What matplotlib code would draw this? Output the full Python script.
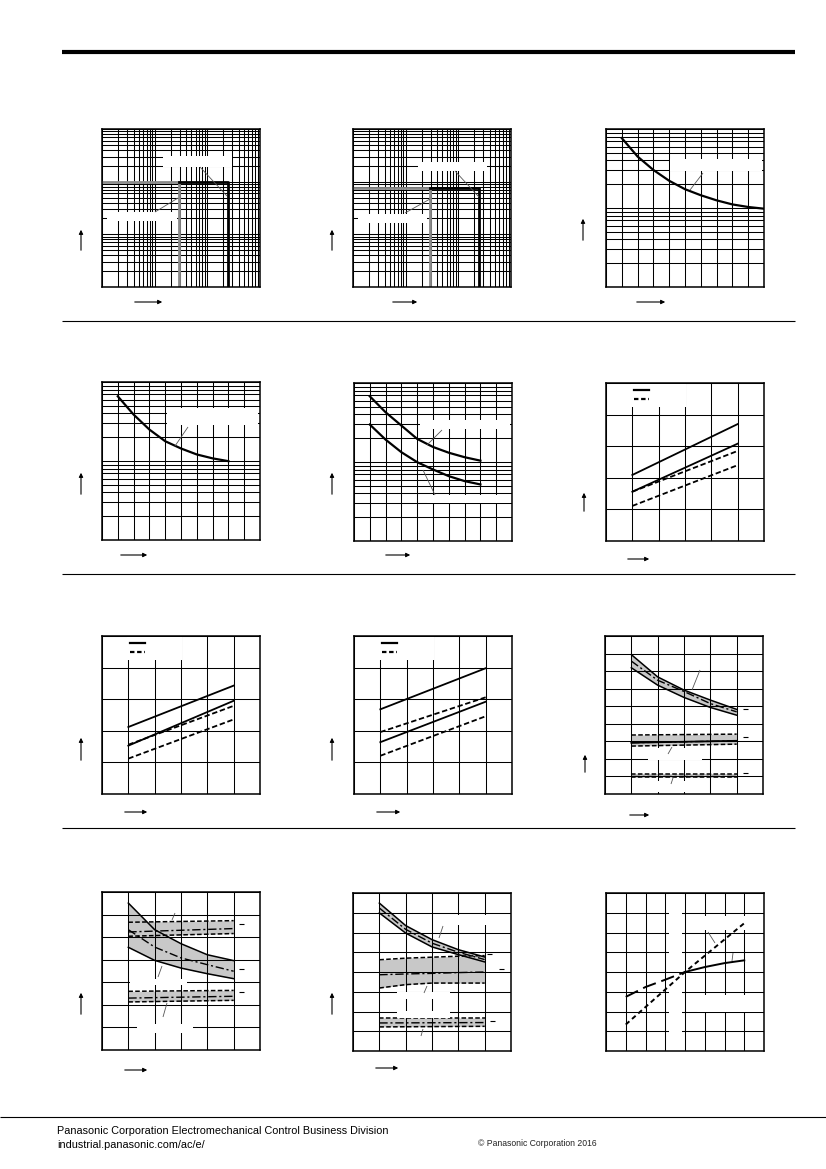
import matplotlib
matplotlib.use('Agg')
import matplotlib.pyplot as plt
from matplotlib.patches import Rectangle, FancyArrowPatch
from matplotlib.lines import Line2D
from matplotlib.ticker import LogLocator
import numpy as np

# ---------------- data ----------------
# row 1: log/log operating limit curves (x 1..1000, y 0.1..100)
lim1_gray_x = [1, 29, 29]
lim1_gray_y = [10, 10, 0.1]
lim1_black_x = [29, 248, 248]
lim1_black_y = [10, 10, 0.1]
lim2_gray_x = [1, 29.6, 29.6]
lim2_gray_y = [7.7, 7.7, 0.1]
lim2_black_x = [29.6, 251, 251]
lim2_black_y = [7.7, 7.7, 0.1]

# row 1/2: life curves, linear x, log y (1..100)
life3_x = [10, 20, 30, 40, 50, 60, 70, 80, 90, 100]
life3_y = [76.7, 44.8, 30.3, 22.1, 17.3, 14.5, 12.5, 11.1, 10.3, 9.8]
life4_x = [10, 20, 30, 40, 50, 60, 70, 80]
life4_y = [65.9, 38.7, 25.0, 17.8, 14.4, 12.1, 10.8, 9.95]
life5_x = [10, 20, 30, 40, 50, 60, 70, 80]
life5_hi = [67.9, 42.6, 28.9, 19.6, 15.5, 13.1, 11.5, 10.4]
life5_lo = [29.8, 19.2, 13.3, 9.95, 8.04, 6.62, 5.73, 5.2]

# row 2/3: temperature characteristics (x -60..120, y 0..5)
temp_x = [-30, 90]
c6_solid_hi = [2.09, 3.70]
c6_solid_lo = [1.56, 3.08]
c6_dash_hi = [1.56, 2.85]
c6_dash_lo = [1.11, 2.40]
c7_solid_hi = [2.12, 3.43]
c7_solid_lo = [1.53, 2.95]
c7_dash_hi = [1.56, 2.79]
c7_dash_lo = [1.12, 2.36]
c8_solid_hi = [2.68, 3.98]
c8_solid_lo = [1.64, 2.92]
c8_dash_hi = [1.96, 3.06]
c8_dash_lo = [1.21, 2.46]

# row 3/4: distribution bands (x 0..6)
band_x = [1, 2, 3, 4, 5]
flat_x = [1, 5]
c9_a_hi = [7.94, 6.67, 5.92, 5.35, 4.82]
c9_a_lo = [7.19, 6.20, 5.50, 4.93, 4.49]
c9_a_mid = [7.57, 6.48, 5.84, 5.15, 4.68]
c9_b_hi = [3.36, 3.41]
c9_b_lo = [2.73, 2.84]
c9_b_mid = [2.92, 3.03]
c9_c_hi = [1.14, 1.14]
c9_c_lo = [0.95, 0.95]
c9_c_mid = [1.04, 1.04]

c10_a_hi = [6.51, 5.33, 4.71, 4.22, 3.96]
c10_a_lo = [4.55, 3.97, 3.63, 3.38, 3.16]
c10_a_mid = [5.33, 4.56, 4.08, 3.78, 3.49]
c10_b_hi = [5.66, 5.73]
c10_b_lo = [5.04, 5.16]
c10_b_mid = [5.23, 5.38]
c10_c_hi = [2.60, 2.64]
c10_c_lo = [2.13, 2.20]
c10_c_mid = [2.30, 2.38]

c11_a_hi = [7.49, 6.35, 5.64, 5.13, 4.76]
c11_a_lo = [6.99, 5.97, 5.27, 4.88, 4.51]
c11_a_mid = [7.24, 6.16, 5.46, 5.00, 4.63]
c11_b_hi = [4.62, 4.70, 4.75, 4.80, 4.83]
c11_b_lo = [3.19, 3.36, 3.44, 3.44, 3.44]
c11_b_mid = [3.86, 3.90, 3.93, 3.97, 4.00]
c11_c_hi = [1.67, 1.67]
c11_c_lo = [1.22, 1.25]
c11_c_mid = [1.42, 1.44]

# row 4 col 3: deviation chart (x -4..4, y -4..4)
dev_x = [-3, -2, -1, 0, 1, 2, 3]
dev_solid = [-1.26, -0.76, -0.39, 0, 0.25, 0.45, 0.59]
dev_dash_x = [-3, 0, 3]
dev_dash = [-2.66, 0, 2.47]

# ---------------- page helpers ----------------
W, H = 826, 1169
fig = plt.figure(figsize=(W / 100, H / 100), dpi=100)
fig.patch.set_facecolor('white')

def fx(x):
    return x / W

def fy(y):
    return 1 - y / H

def new_axes(left, top, w=158, h=158):
    ax = fig.add_axes([fx(left), fy(top + h), w / W, h / H])
    for s in ax.spines.values():
        s.set_linewidth(1.1)
    ax.tick_params(which='both', length=0, labelbottom=False, labelleft=False)
    return ax

def grid_on(ax):
    ax.grid(True, which='both', color='black', lw=0.75)

def log_axis(axis):
    axis.set_major_locator(LogLocator(base=10))
    axis.set_minor_locator(LogLocator(base=10, subs=range(2, 10)))

def page_line(x0, y0, x1, y1, lw=0.6, color='#555555'):
    fig.add_artist(Line2D([fx(x0), fx(x1)], [fy(y0), fy(y1)],
                          transform=fig.transFigure, lw=lw, color=color,
                          solid_capstyle='butt', zorder=10))

def blank(x0, y0, x1, y1, ax=None):
    # white label area; inside an axes it sits over the grid but under the curves
    rect = Rectangle((fx(x0), fy(y1)), (x1 - x0) / W, (y1 - y0) / H,
                     transform=fig.transFigure, facecolor='white', edgecolor='none')
    if ax is None:
        rect.set_zorder(5)
        fig.add_artist(rect)
    else:
        rect.set_zorder(1.8)
        ax.add_patch(rect)

def arrow(x0, y0, x1, y1):
    fig.add_artist(FancyArrowPatch((fx(x0), fy(y0)), (fx(x1), fy(y1)),
                                   transform=fig.transFigure, arrowstyle='-|>',
                                   mutation_scale=6, lw=0.8, color='black', zorder=10))

def dash_mark(x, y):
    page_line(x, y, x + 5, y, lw=0.8, color='black')

def band(ax, x, hi, lo, mid, solid_edge=True):
    ax.fill_between(x, lo, hi, color='#c8c8c8', lw=0)
    ls = '-' if solid_edge else (0, (3, 1.5))
    ax.plot(x, hi, color='black', lw=1.1, ls=ls)
    ax.plot(x, lo, color='black', lw=1.1, ls=ls)
    ax.plot(x, mid, color='black', lw=1.0, ls=(0, (6, 2, 1.5, 2)))

def blank_legend(ax):
    h1 = Line2D([], [], color='black', lw=1.6)
    h2 = Line2D([], [], color='black', lw=1.6, ls=(0, (2, 1.2)))
    leg = ax.legend([h1, h2], ['            ', '            '], loc='upper left',
                    bbox_to_anchor=(0.16, 0.995), fontsize=6, frameon=True,
                    fancybox=False, framealpha=1, edgecolor='white',
                    borderpad=0.3, borderaxespad=0, handlelength=1.8,
                    labelspacing=0.0, handletextpad=0.4)
    leg.get_frame().set_linewidth(0)

# ---------------- page rules and footer ----------------
page_line(62, 52, 795, 52, lw=3.0, color='black')
for yy in (321, 574, 828):
    page_line(62, yy, 795, yy, lw=0.8, color='black')
page_line(0, 1117, 826, 1117, lw=0.8, color='black')

foot = ['Liberation Sans Narrow', 'Liberation Sans', 'DejaVu Sans']
fig.text(fx(57), fy(1131), 'Panasonic Corporation Electromechanical Control Business Division',
         fontsize=7.8, family=foot, va='center', ha='left', color='black')
fig.text(fx(57), fy(1145), 'industrial.panasonic.com/ac/e/',
         fontsize=7.8, family=foot, va='center', ha='left', color='black')
fig.text(fx(478), fy(1143), '\u00a9 Panasonic Corporation 2016',
         fontsize=6.2, family=foot, va='center', ha='left', color='#222222')

# ---------------- row 1 ----------------
for left, gx, gy, bx, by in [(102, lim1_gray_x, lim1_gray_y, lim1_black_x, lim1_black_y),
                             (353, lim2_gray_x, lim2_gray_y, lim2_black_x, lim2_black_y)]:
    ax = new_axes(left, 129)
    ax.set_xscale('log')
    ax.set_yscale('log')
    ax.set_xlim(1, 1000)
    ax.set_ylim(0.1, 100)
    log_axis(ax.xaxis)
    log_axis(ax.yaxis)
    ax.tick_params(which='both', length=0, labelbottom=False, labelleft=False)
    grid_on(ax)
    ax.plot(gx, gy, color='#8a8a8a', lw=2.0)
    ax.plot(bx, by, color='black', lw=2.0)

blank(163, 156, 232, 167)
blank(107, 212, 177, 221)
page_line(200, 167, 227, 196)
page_line(155, 212, 178, 198)
blank(418, 162, 487, 171)
blank(358, 214, 427, 223)
page_line(455, 171, 479, 197)
page_line(405, 213, 430, 199)

def life_axes(left, top):
    ax = new_axes(left, top)
    ax.set_yscale('log')
    ax.set_xlim(0, 100)
    ax.set_ylim(1, 100)
    ax.set_xticks(np.arange(0, 101, 10))
    log_axis(ax.yaxis)
    ax.tick_params(which='both', length=0, labelbottom=False, labelleft=False)
    grid_on(ax)
    return ax

ax3 = life_axes(606, 129)
ax3.plot(life3_x, life3_y, color='black', lw=1.6)
blank(670, 159, 762, 171)
page_line(703, 173, 690, 190)

# ---------------- row 2 ----------------
ax4 = life_axes(102, 382)
ax4.plot(life4_x, life4_y, color='black', lw=1.6)
blank(167, 408, 258, 425)
page_line(188, 427, 175, 446)

ax5 = life_axes(354, 383)
ax5.plot(life5_x, life5_hi, color='black', lw=1.6)
ax5.plot(life5_x, life5_lo, color='black', lw=1.6)
blank(420, 420, 510, 429)
blank(427, 495, 510, 503)
page_line(442, 430, 427, 445)
page_line(423, 470, 435, 495)

def temp_axes(left, top):
    ax = new_axes(left, top)
    ax.set_xlim(-60, 120)
    ax.set_ylim(0, 5)
    ax.set_xticks(np.arange(-60, 121, 30))
    ax.set_yticks(np.arange(0, 6, 1))
    grid_on(ax)
    return ax

for left, top, sh, sl, dh, dl in [(606, 383, c6_solid_hi, c6_solid_lo, c6_dash_hi, c6_dash_lo),
                                  (102, 636, c7_solid_hi, c7_solid_lo, c7_dash_hi, c7_dash_lo),
                                  (354, 636, c8_solid_hi, c8_solid_lo, c8_dash_hi, c8_dash_lo)]:
    ax = temp_axes(left, top)
    ax.plot(temp_x, sh, color='black', lw=1.3)
    ax.plot(temp_x, sl, color='black', lw=1.3)
    ax.plot(temp_x, dh, color='black', lw=1.3, ls=(0, (3, 1.5)))
    ax.plot(temp_x, dl, color='black', lw=1.3, ls=(0, (3, 1.5)))
    blank_legend(ax)

# ---------------- row 3 col 3 ----------------
ax9 = new_axes(605, 636)
ax9.set_xlim(0, 6)
ax9.set_ylim(0, 9)
ax9.set_xticks(range(7))
ax9.set_yticks(range(10))
grid_on(ax9)
band(ax9, band_x, c9_a_hi, c9_a_lo, c9_a_mid, solid_edge=True)
band(ax9, flat_x, c9_b_hi, c9_b_lo, c9_b_mid, solid_edge=False)
ax9.plot(flat_x, c9_b_mid, color='black', lw=1.3)
band(ax9, flat_x, c9_c_hi, c9_c_lo, c9_c_mid, solid_edge=False)
blank(648, 748, 702, 760)
blank(645, 781, 700, 792)
page_line(700, 670, 692, 690)
page_line(672, 747, 668, 754)
page_line(673, 778, 671, 784)
dash_mark(743, 709)
dash_mark(743, 737)
dash_mark(743, 773)

# ---------------- row 4 ----------------
ax10 = new_axes(102, 892)
ax10.set_xlim(0, 6)
ax10.set_ylim(0, 7)
ax10.set_xticks(range(7))
ax10.set_yticks(range(8))
grid_on(ax10)
band(ax10, band_x, c10_a_hi, c10_a_lo, c10_a_mid, solid_edge=True)
band(ax10, flat_x, c10_b_hi, c10_b_lo, c10_b_mid, solid_edge=False)
band(ax10, flat_x, c10_c_hi, c10_c_lo, c10_c_mid, solid_edge=False)
blank(130, 979, 187, 985)
blank(137, 1024, 193, 1033)
page_line(175, 913, 172, 920)
page_line(162, 966, 158, 977)
page_line(167, 1003, 163, 1017)
dash_mark(239, 924)
dash_mark(239, 969)
dash_mark(239, 992)

ax11 = new_axes(353, 893)
ax11.set_xlim(0, 6)
ax11.set_ylim(0, 8)
ax11.set_xticks(range(7))
ax11.set_yticks(range(9))
grid_on(ax11)
band(ax11, band_x, c11_a_hi, c11_a_lo, c11_a_mid, solid_edge=True)
band(ax11, band_x, c11_b_hi, c11_b_lo, c11_b_mid, solid_edge=False)
band(ax11, flat_x, c11_c_hi, c11_c_lo, c11_c_mid, solid_edge=False)
blank(447, 915, 487, 925)
blank(397, 992, 450, 999)
blank(397, 1011, 450, 1018)
page_line(443, 926, 439, 938)
page_line(427, 986, 424, 993)
page_line(423, 1029, 421, 1036)
dash_mark(487, 954)
dash_mark(499, 969)
dash_mark(490, 1021)

ax12 = new_axes(606, 893)
ax12.set_xlim(-4, 4)
ax12.set_ylim(-4, 4)
ax12.set_xticks(range(-4, 5))
ax12.set_yticks(range(-4, 5))
grid_on(ax12)
ax12.plot(dev_x[:4], dev_solid[:4], color='black', lw=1.4, ls=(0, (7, 3)))
ax12.plot(dev_x[3:], dev_solid[3:], color='black', lw=1.4)
ax12.plot(dev_dash_x, dev_dash, color='black', lw=1.4, ls=(0, (2.5, 1.8)))
blank(669, 894, 682, 970, ax=ax12)
blank(669, 974, 682, 1049, ax=ax12)
blank(697, 916, 763, 930, ax=ax12)
blank(697, 995, 763, 1012, ax=ax12)
page_line(708, 932, 715, 943)
page_line(733, 953, 732, 961)

# ---------------- axis direction arrows ----------------
y_arrows = [(81, 253, 227), (332, 253, 227), (583, 243, 216),
            (81, 497, 470), (332, 497, 470), (584, 514, 490),
            (81, 763, 735), (332, 763, 735), (585, 775, 752),
            (81, 1017, 990), (332, 1017, 990)]
x_arrows = [(132, 165, 302), (390, 420, 302), (634, 668, 302),
            (118, 150, 555), (383, 413, 555), (625, 652, 559),
            (122, 150, 812), (374, 403, 812), (627, 652, 815),
            (122, 150, 1070), (373, 401, 1068)]
for x, y0, y1 in y_arrows:
    arrow(x, y0, x, y1)
for x0, x1, y in x_arrows:
    arrow(x0, y, x1, y)

fig.savefig('out.png', dpi=100, facecolor='white')
